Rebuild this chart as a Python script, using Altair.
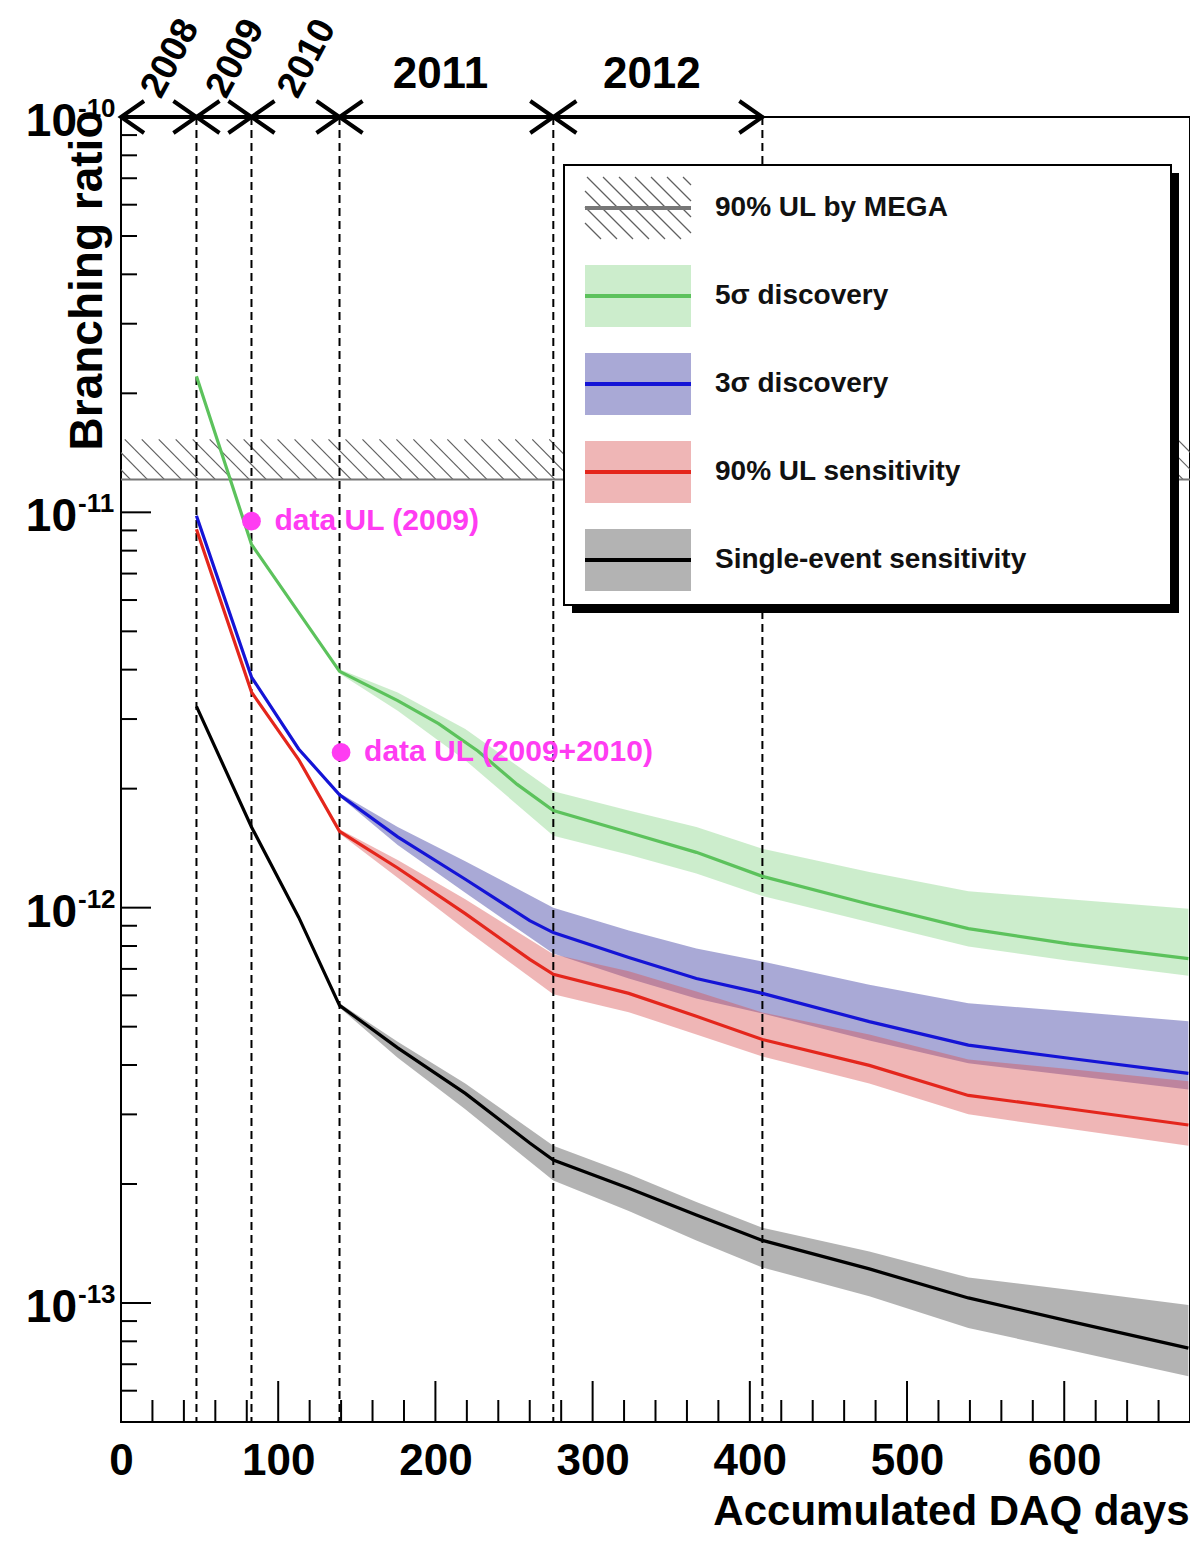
import altair as alt
import numpy as np
import pandas as pd

FONT = "Liberation Sans"
W, H = 1069, 1305
X_MAX = 680
Y_MIN, Y_MAX = 5e-14, 1e-10

SERIES = ["green", "blue", "red", "black"]
LINE_COLORS = ["#5cc25c", "#1414d6", "#e4261c", "#000000"]
BAND_COLORS = ["#86d486", "#33339e", "#d85050", "#4a4a4a"]
MAG = "#ff3cf2"

# ---------------- data ----------------
year_labels = ["2008", "2009", "2010", "2011", "2012"]
year_start = [0, 48, 83, 139, 275]
year_end = [48, 83, 139, 275, 408]

green_days = [48, 83, 139, 176, 202, 227, 252, 275, 323, 366, 408, 476, 539, 603, 679]
green_vals = [2.21e-11, 8.3e-12, 3.96e-12, 3.34e-12, 2.92e-12, 2.49e-12, 2.05e-12, 1.76e-12,
              1.55e-12, 1.38e-12, 1.20e-12, 1.02e-12, 8.85e-13, 8.1e-13, 7.43e-13]

sig_days = [48, 83, 113, 139, 176, 219, 260, 275, 323, 366, 408, 476, 539, 603, 679]
blue_vals = [9.8e-12, 3.83e-12, 2.52e-12, 1.93e-12, 1.51e-12, 1.18e-12, 9.27e-13, 8.65e-13,
             7.48e-13, 6.62e-13, 6.07e-13, 5.15e-13, 4.49e-13, 4.16e-13, 3.81e-13]
red_vals = [9.06e-12, 3.51e-12, 2.37e-12, 1.56e-12, 1.26e-12, 9.66e-13, 7.4e-13, 6.78e-13,
            6.07e-13, 5.31e-13, 4.64e-13, 3.99e-13, 3.35e-13, 3.10e-13, 2.82e-13]
black_vals = [3.23e-12, 1.60e-12, 9.46e-13, 5.66e-13, 4.42e-13, 3.39e-13, 2.54e-13, 2.30e-13,
              1.95e-13, 1.67e-13, 1.44e-13, 1.22e-13, 1.03e-13, 9.0e-14, 7.69e-14]

band_days = [139, 176, 219, 275, 323, 366, 408, 476, 539, 603, 679]
green_hi = [4.01e-12, 3.50e-12, 2.83e-12, 1.97e-12, 1.76e-12, 1.60e-12, 1.41e-12, 1.23e-12, 1.10e-12, 1.05e-12, 9.94e-13]
green_lo = [3.91e-12, 3.15e-12, 2.36e-12, 1.52e-12, 1.36e-12, 1.22e-12, 1.07e-12, 9.19e-13, 7.97e-13, 7.34e-13, 6.73e-13]
blue_hi = [1.95e-12, 1.60e-12, 1.31e-12, 1.00e-12, 8.75e-13, 7.88e-13, 7.31e-13, 6.38e-13, 5.73e-13, 5.47e-13, 5.16e-13]
blue_lo = [1.91e-12, 1.44e-12, 1.09e-12, 7.66e-13, 6.62e-13, 5.89e-13, 5.40e-13, 4.61e-13, 4.04e-13, 3.77e-13, 3.47e-13]
red_hi = [1.58e-12, 1.32e-12, 1.05e-12, 7.62e-13, 6.90e-13, 6.14e-13, 5.43e-13, 4.78e-13, 4.13e-13, 3.91e-13, 3.64e-13]
red_lo = [1.54e-12, 1.19e-12, 8.80e-13, 6.04e-13, 5.44e-13, 4.78e-13, 4.20e-13, 3.59e-13, 3.00e-13, 2.76e-13, 2.50e-13]
black_hi = [5.73e-13, 4.58e-13, 3.59e-13, 2.50e-13, 2.12e-13, 1.80e-13, 1.55e-13, 1.35e-13, 1.16e-13, 1.08e-13, 9.88e-14]
black_lo = [5.59e-13, 4.17e-13, 3.09e-13, 2.04e-13, 1.71e-13, 1.44e-13, 1.23e-13, 1.04e-13, 8.65e-14, 7.60e-14, 6.53e-14]

MEGA_UL = 1.21e-11
MEGA_TOP = 1.53e-11

ul_days = [83, 140]
ul_vals = [9.5e-12, 2.47e-12]
ul_labels = ["data UL (2009)", "data UL (2009+2010)"]

legend_labels = ["90% UL by MEGA", "5σ discovery", "3σ discovery", "90% UL sensitivity",
                 "Single-event sensitivity"]
legend_series = ["mega", "green", "blue", "red", "black"]

x_major = [0, 100, 200, 300, 400, 500, 600]
x_minor = [d for d in range(20, X_MAX, 20) if d % 100]
y_major = [1e-13, 1e-12, 1e-11, 1e-10]
y_exp = ["-13", "-12", "-11", "-10"]
y_minor = [k * 10.0 ** e for e in (-14, -13, -12, -11) for k in range(2, 10)
           if Y_MIN * 1.01 < k * 10.0 ** e < Y_MAX]

# ---------------- tables ----------------
line_rows = []
for s, d, v in [("green", green_days, green_vals), ("blue", sig_days, blue_vals),
                ("red", sig_days, red_vals), ("black", sig_days, black_vals)]:
    for a, b in zip(d, v):
        line_rows.append({"series": s, "day": a, "val": b})
lines_df = pd.DataFrame(line_rows)

band_rows = []
for s, lo, hi in [("green", green_lo, green_hi), ("blue", blue_lo, blue_hi),
                  ("red", red_lo, red_hi), ("black", black_lo, black_hi)]:
    for a, l, h in zip(band_days, lo, hi):
        band_rows.append({"series": s, "day": a, "lo": l, "hi": h})
bands_df = pd.DataFrame(band_rows)

xs = alt.Scale(domain=[0, X_MAX], nice=False, zero=False)
ys = alt.Scale(type="log", domain=[Y_MIN, Y_MAX], nice=False)
fill_scale = alt.Scale(domain=SERIES, range=BAND_COLORS)
stroke_scale = alt.Scale(domain=SERIES + ["mega"], range=LINE_COLORS + ["#777777"])

x_axis = alt.Axis(values=x_major, labelFont=FONT, labelFontSize=44, labelFontWeight="bold",
                  labelColor="black", labelPadding=17, labelFlush=False, labelOverlap=False,
                  ticks=False, domain=False, grid=False,
                  title="Accumulated DAQ days", titleFont=FONT, titleFontSize=42,
                  titleFontWeight="bold", titleColor="black", titleAnchor="end",
                  titleAlign="right", titleBaseline="alphabetic", titleX=W - 1, titleY=102)
y_axis = alt.Axis(labels=False, ticks=False, domain=False, grid=False,
                  title="Branching ratio", titleFont=FONT, titleFontSize=46,
                  titleFontWeight="bold", titleColor="black", titleAngle=270,
                  titleAlign="right", titleBaseline="middle", titleX=-34, titleY=-7)

layers = []

# bands
layers.append(alt.Chart(bands_df).mark_area(fillOpacity=0.42).encode(
    x=alt.X("day:Q", scale=xs, axis=x_axis),
    y=alt.Y("lo:Q", scale=ys, axis=y_axis),
    y2="hi:Q",
    fill=alt.Fill("series:N", scale=fill_scale, legend=None),
    detail="series:N",
))

# MEGA hatch band
hx0 = np.arange(-30, X_MAX, 10.8)
hatch_df = pd.DataFrame({"day": hx0, "day2": hx0 + 25.3, "val": MEGA_TOP, "val2": MEGA_UL})
layers.append(alt.Chart(hatch_df).mark_rule(clip=True, color="#606060", strokeWidth=1.2).encode(
    x=alt.X("day:Q", scale=xs), x2="day2:Q",
    y=alt.Y("val:Q", scale=ys), y2="val2:Q"))
layers.append(alt.Chart(pd.DataFrame({"val": [MEGA_UL]})).mark_rule(
    color="#777777", strokeWidth=2).encode(y=alt.Y("val:Q", scale=ys)))

# dashed year boundaries
layers.append(alt.Chart(pd.DataFrame({"day": year_end})).mark_rule(
    color="black", strokeWidth=2, strokeDash=[8, 5]).encode(x=alt.X("day:Q", scale=xs)))

# curves
layers.append(alt.Chart(lines_df).mark_line(strokeWidth=3.2).encode(
    x=alt.X("day:Q", scale=xs),
    y=alt.Y("val:Q", scale=ys),
    stroke=alt.Stroke("series:N", scale=stroke_scale, legend=None),
    detail="series:N",
))

# data UL points
ul_df = pd.DataFrame({"day": ul_days, "val": ul_vals, "label": ul_labels})
layers.append(alt.Chart(ul_df).mark_point(filled=True, size=350, color=MAG, opacity=1).encode(
    x=alt.X("day:Q", scale=xs), y=alt.Y("val:Q", scale=ys)))
layers.append(alt.Chart(ul_df).mark_text(align="left", baseline="middle", dx=23, font=FONT,
                                         fontSize=30, fontWeight="bold", color=MAG).encode(
    x=alt.X("day:Q", scale=xs), y=alt.Y("val:Q", scale=ys), text="label:N"))

# ---------------- legend ----------------
LX0, LX1, LY0, LY1 = 443, 1050, 48, 488
one = pd.DataFrame({"a": [0]})
layers.append(alt.Chart(one).mark_rect(color="black").encode(
    x=alt.value(LX0 + 8), x2=alt.value(LX1 + 8), y=alt.value(LY0 + 8), y2=alt.value(LY1 + 8)))
layers.append(alt.Chart(one).mark_rect(fill="white", stroke="black", strokeWidth=2).encode(
    x=alt.value(LX0), x2=alt.value(LX1), y=alt.value(LY0), y2=alt.value(LY1)))

leg_df = pd.DataFrame({"label": legend_labels, "series": legend_series})
leg_df["ypx"] = 91 + 88 * np.arange(len(leg_df))
leg_df["y0"] = leg_df["ypx"] - 31
leg_df["y1"] = leg_df["ypx"] + 31
SW0, SW1 = 464, 570
layers.append(alt.Chart(leg_df[leg_df.series != "mega"]).mark_rect(fillOpacity=0.42).encode(
    x=alt.value(SW0), x2=alt.value(SW1),
    y=alt.Y("y0:Q", scale=None), y2="y1:Q",
    fill=alt.Fill("series:N", scale=fill_scale, legend=None)))

# legend hatch for MEGA swatch
mtop, mbot = int(leg_df.y0[0]), int(leg_df.y1[0])
hh = mbot - mtop
segs = []
for x0 in np.arange(SW0 - hh, SW1, 16.0):
    t0 = max(0.0, SW0 - x0)
    t1 = min(float(hh), SW1 - x0)
    if t1 > t0:
        segs.append({"x0": x0 + t0, "x1": x0 + t1, "y0": mtop + t0, "y1": mtop + t1})
layers.append(alt.Chart(pd.DataFrame(segs)).mark_rule(color="#606060", strokeWidth=1.2).encode(
    x=alt.X("x0:Q", scale=None), x2="x1:Q", y=alt.Y("y0:Q", scale=None), y2="y1:Q"))

layers.append(alt.Chart(leg_df).mark_rule(strokeWidth=4).encode(
    x=alt.value(SW0), x2=alt.value(SW1), y=alt.Y("ypx:Q", scale=None),
    stroke=alt.Stroke("series:N", scale=stroke_scale, legend=None)))
layers.append(alt.Chart(leg_df).mark_text(align="left", baseline="middle", font=FONT,
                                          fontSize=28, fontWeight="bold", color="#111111").encode(
    x=alt.value(594), y=alt.Y("ypx:Q", scale=None), text="label:N"))

# ---------------- top arrows & year labels ----------------
arrow_df = pd.DataFrame({"day": [year_start[0]], "day2": [year_end[-1]], "val": [Y_MAX]})
layers.append(alt.Chart(arrow_df).mark_rule(color="black", strokeWidth=4).encode(
    x=alt.X("day:Q", scale=xs), x2="day2:Q", y=alt.Y("val:Q", scale=ys)))
LEFT_HEAD = "M1.44,-1L0,0L1.44,1"
RIGHT_HEAD = "M-1.44,-1L0,0L-1.44,1"
layers.append(alt.Chart(pd.DataFrame({"day": year_start, "val": Y_MAX})).mark_point(
    shape=LEFT_HEAD, size=1024, filled=False, color="black", strokeWidth=4, opacity=1).encode(
    x=alt.X("day:Q", scale=xs), y=alt.Y("val:Q", scale=ys)))
layers.append(alt.Chart(pd.DataFrame({"day": year_end, "val": Y_MAX})).mark_point(
    shape=RIGHT_HEAD, size=1024, filled=False, color="black", strokeWidth=4, opacity=1).encode(
    x=alt.X("day:Q", scale=xs), y=alt.Y("val:Q", scale=ys)))

years_df = pd.DataFrame({"label": year_labels, "start": year_start, "end": year_end})
yb = alt.Chart(years_df).transform_calculate(mid="(datum.start + datum.end) / 2")
layers.append(yb.transform_filter("datum.end <= 139").mark_text(
    angle=298, font=FONT, fontSize=37, fontWeight="bold", align="center", baseline="middle",
    dx=6, dy=10, color="black").encode(
    x=alt.X("mid:Q", scale=xs), y=alt.value(-58), text="label:N"))
layers.append(yb.transform_filter("datum.end > 139").mark_text(
    font=FONT, fontSize=44, fontWeight="bold", align="center", baseline="middle",
    dx=-6, color="black").encode(
    x=alt.X("mid:Q", scale=xs), y=alt.value(-42), text="label:N"))

# ---------------- ticks (inward) ----------------
layers.append(alt.Chart(pd.DataFrame({"day": x_major})).mark_rule(color="black", strokeWidth=2).encode(
    x=alt.X("day:Q", scale=xs), y=alt.value(H), y2=alt.value(H - 41)))
layers.append(alt.Chart(pd.DataFrame({"day": x_minor})).mark_rule(color="black", strokeWidth=2).encode(
    x=alt.X("day:Q", scale=xs), y=alt.value(H), y2=alt.value(H - 22)))
layers.append(alt.Chart(pd.DataFrame({"val": y_major})).mark_rule(color="black", strokeWidth=2).encode(
    y=alt.Y("val:Q", scale=ys), x=alt.value(0), x2=alt.value(30)))
layers.append(alt.Chart(pd.DataFrame({"val": y_minor})).mark_rule(color="black", strokeWidth=2).encode(
    y=alt.Y("val:Q", scale=ys), x=alt.value(0), x2=alt.value(16)))

# y tick labels 10^n
ylab_df = pd.DataFrame({"val": y_major, "base": ["10"] * len(y_major), "exp": y_exp})
layers.append(alt.Chart(ylab_df).mark_text(font=FONT, fontSize=46, fontWeight="bold",
                                           align="right", baseline="alphabetic", dy=19,
                                           color="black").encode(
    x=alt.value(-44), y=alt.Y("val:Q", scale=ys), text="base:N"))
layers.append(alt.Chart(ylab_df).mark_text(font=FONT, fontSize=26, fontWeight="bold",
                                           align="left", baseline="alphabetic", dy=0,
                                           color="black").encode(
    x=alt.value(-43), y=alt.Y("val:Q", scale=ys), text="exp:N"))

chart = alt.layer(*layers).properties(
    width=W, height=H,
    padding={"left": 113, "top": 109, "right": 0, "bottom": 112},
    autosize=alt.AutoSizeParams(type="none"),
    background="white",
).configure_view(stroke="black", strokeWidth=2)

chart.save("out.html", embed_options={"renderer": "svg", "actions": False})
